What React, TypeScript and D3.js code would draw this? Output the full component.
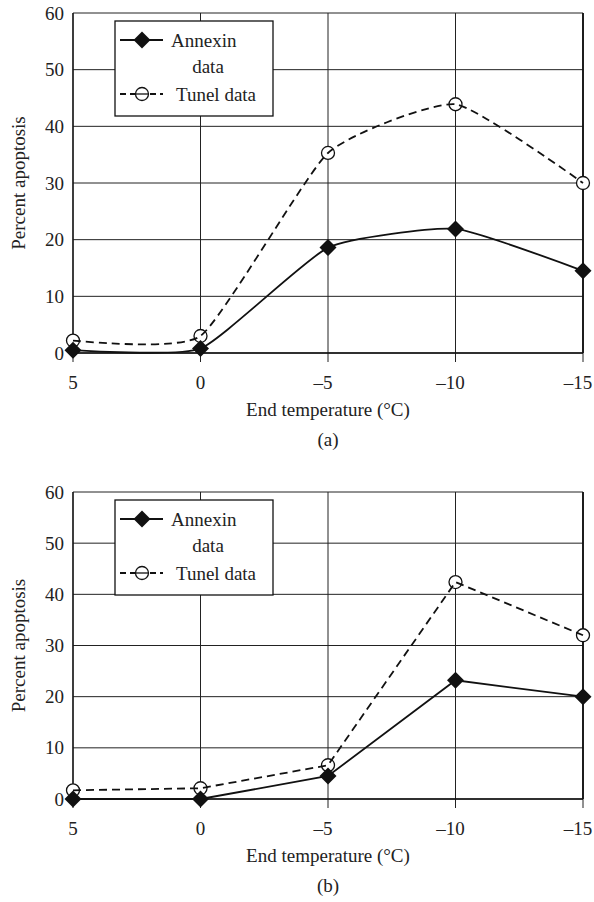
import React from "react";
import * as d3 from "d3";

const temps = [5, 0, -5, -10, -15];
const yTicks = [0, 10, 20, 30, 40, 50, 60];

const annexinA = [0.5, 0.8, 18.6, 21.9, 14.5];
const tunelA = [2.2, 3.0, 35.3, 43.9, 30.0];
const annexinB = [0, 0, 4.5, 23.2, 20.0];
const tunelB = [1.7, 2.1, 6.6, 42.4, 32.0];

const FONT = '"Liberation Serif", "Times New Roman", serif';
const FS = 19;

interface PanelProps {
  top: number;
  bottom: number;
  annexin: number[];
  tunel: number[];
  smooth: boolean;
  caption: string;
}

const Panel: React.FC<PanelProps> = ({ top, bottom, annexin, tunel, smooth, caption }) => {
  const left = 73;
  const right = 583;
  const x = d3.scalePoint<number>().domain(temps).range([left, right]);
  const y = d3.scaleLinear().domain([0, 60]).range([bottom, top]);

  const curve = smooth ? d3.curveCardinal.tension(0.5) : d3.curveLinear;
  const line = d3
    .line<number>()
    .x((_, i) => x(temps[i]) as number)
    .y((d) => y(d))
    .curve(curve);

  const midX = (left + right) / 2;
  const midY = (top + bottom) / 2;
  const lx = 115;
  const ly = top + 8;

  const diamond = (cx: number, cy: number, r = 8.5) =>
    `M${cx},${cy - r}L${cx + r},${cy}L${cx},${cy + r}L${cx - r},${cy}Z`;

  return (
    <g>
      {/* grid */}
      {yTicks.map((t) => (
        <line key={"h" + t} x1={left} x2={right} y1={y(t)} y2={y(t)} stroke="#222" strokeWidth={1} />
      ))}
      {temps.map((t) => (
        <line
          key={"v" + t}
          x1={x(t)}
          x2={x(t)}
          y1={top}
          y2={bottom + 9}
          stroke="#222"
          strokeWidth={1}
        />
      ))}
      <line x1={left} x2={right} y1={bottom} y2={bottom} stroke="#111" strokeWidth={1.6} />
      <line x1={right} x2={right} y1={top} y2={bottom} stroke="#111" strokeWidth={1.8} />
      <line x1={left} x2={left} y1={top} y2={bottom} stroke="#111" strokeWidth={1.3} />

      {/* tick labels */}
      {yTicks.map((t) => (
        <text key={"yl" + t} x={64} y={y(t) + 6.5} textAnchor="end">
          {t}
        </text>
      ))}
      {temps.map((t) => (
        <text key={"xl" + t} x={(x(t) as number) - (t < 0 ? 5 : 0)} y={bottom + 36} textAnchor="middle">
          {t < 0 ? "\u2013" + Math.abs(t) : t}
        </text>
      ))}
      <text transform={`translate(25,${midY}) rotate(-90)`} textAnchor="middle">
        Percent apoptosis
      </text>
      <text x={midX} y={bottom + 63} textAnchor="middle">
        End temperature (°C)
      </text>
      <text x={midX} y={bottom + 93} textAnchor="middle">
        {caption}
      </text>

      {/* series */}
      {tunel.map((v, i) => (
        <circle key={"c" + i} cx={x(temps[i])} cy={y(v)} r={6.5} fill="#fff" stroke="#111" strokeWidth={1.3} />
      ))}
      <path d={line(tunel) ?? ""} fill="none" stroke="#111" strokeWidth={1.8} strokeDasharray="8,5" />
      <path d={line(annexin) ?? ""} fill="none" stroke="#111" strokeWidth={1.8} />
      {annexin.map((v, i) => (
        <path key={"d" + i} d={diamond(x(temps[i]) as number, y(v))} fill="#111" />
      ))}

      {/* legend */}
      <rect x={lx} y={ly} width={158} height={95} fill="#fff" stroke="#111" strokeWidth={1.3} />
      <line x1={lx + 5} x2={lx + 48} y1={ly + 19} y2={ly + 19} stroke="#111" strokeWidth={1.8} />
      <path d={diamond(lx + 27, ly + 19)} fill="#111" />
      <text x={lx + 56} y={ly + 26}>
        Annexin
      </text>
      <text x={lx + 93} y={ly + 52} textAnchor="middle">
        data
      </text>
      <line
        x1={lx + 5}
        x2={lx + 48}
        y1={ly + 73}
        y2={ly + 73}
        stroke="#111"
        strokeWidth={1.8}
        strokeDasharray="6,4"
      />
      <circle cx={lx + 27} cy={ly + 73} r={6.5} fill="#fff" stroke="#111" strokeWidth={1.3} />
      <line x1={lx + 21} x2={lx + 33} y1={ly + 73} y2={ly + 73} stroke="#111" strokeWidth={1.3} />
      <text x={lx + 61} y={ly + 80}>
        Tunel data
      </text>
    </g>
  );
};

const App: React.FC = () => {
  return (
    <div>
      <style>{"body{margin:0}"}</style>
      <svg
        width={594}
        height={902}
        style={{ display: "block", background: "#fff", fontFamily: FONT, fontSize: FS, fill: "#222" }}
      >
        <Panel top={13} bottom={353} annexin={annexinA} tunel={tunelA} smooth={true} caption="(a)" />
        <Panel top={492} bottom={799} annexin={annexinB} tunel={tunelB} smooth={false} caption="(b)" />
      </svg>
    </div>
  );
};

export default App;
